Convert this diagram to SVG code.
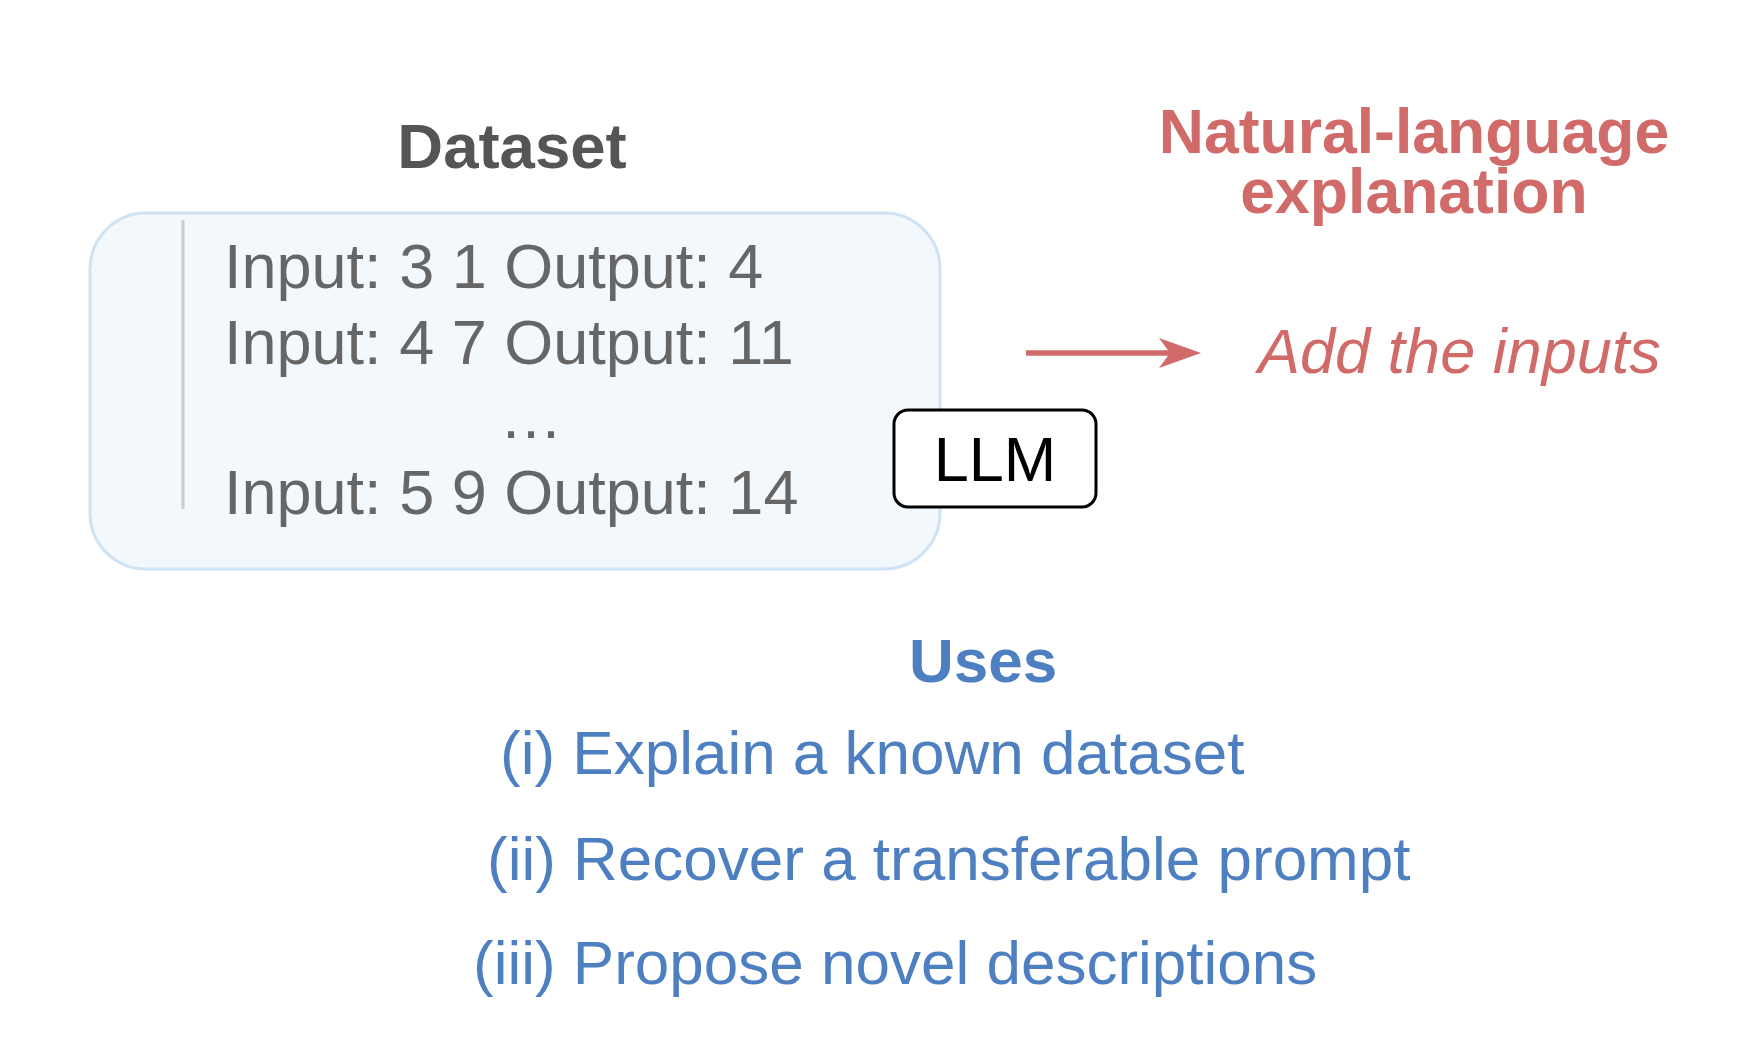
<svg xmlns="http://www.w3.org/2000/svg" width="1750" height="1040" viewBox="0 0 1750 1040">
  <style>
    .sans { font-family: "Liberation Sans", Arial, Helvetica, sans-serif; }
    .title-gray { font-size: 63.5px; font-weight: bold; fill: #555555; }
    .data { font-size: 63px; fill: #666666; }
    .red-bold { font-size: 62.5px; font-weight: bold; fill: #d16b69; }
    .red-it { font-size: 63px; font-style: italic; fill: #d16b69; }
    .blue-bold { font-size: 62px; font-weight: bold; fill: #4e80c1; }
    .blue { font-size: 62px; fill: #4e80c1; }
    .llm { font-size: 63px; fill: #000000; }
  </style>
  <defs>
    <marker id="arrowRed" viewBox="0 0 42 30" refX="31" refY="15" markerWidth="42" markerHeight="30" markerUnits="userSpaceOnUse" orient="auto">
      <path d="M0,0 L42,15 L0,30 L11,15 Z" fill="#d16b69"/>
    </marker>
  </defs>
  <rect width="1750" height="1040" fill="#ffffff"/>

  <g id="dataset">
    <text class="sans title-gray" x="512" y="168" text-anchor="middle">Dataset</text>
    <rect x="90" y="213" width="850" height="356" rx="56" ry="56" fill="#f3f8fd" stroke="#cfe3f5" stroke-width="3"/>
    <line x1="183" y1="220" x2="183" y2="509" stroke="#cccccc" stroke-width="3"/>
    <text class="sans data" x="224" y="288">Input: 3 1 Output: 4</text>
    <text class="sans data" x="224" y="364">Input: 4 7 Output: 11</text>
    <text class="sans data" x="531" y="438" text-anchor="middle">…</text>
    <text class="sans data" x="224" y="514">Input: 5 9 Output: 14</text>
  </g>

  <g id="llm">
    <rect x="894" y="410" width="202" height="97" rx="14" ry="14" fill="#ffffff" stroke="#000000" stroke-width="3"/>
    <text class="sans llm" x="995" y="481" text-anchor="middle">LLM</text>
  </g>

  <g id="explanation">
    <text class="sans red-bold" text-anchor="middle"><tspan x="1414" y="153">Natural-language</tspan><tspan x="1414" y="213">explanation</tspan></text>
    <text class="sans red-it" x="1258" y="373">Add the inputs</text>
  </g>

  <g id="uses">
    <text class="sans blue-bold" x="983" y="682" text-anchor="middle">Uses</text>
    <text class="sans blue" x="500" y="774">(i) Explain a known dataset</text>
    <text class="sans blue" x="487" y="880">(ii) Recover a transferable prompt</text>
    <text class="sans blue" x="473" y="984">(iii) Propose novel descriptions</text>
  </g>

  <g id="connectors">
    <line x1="1026" y1="353" x2="1190" y2="353" stroke="#d16b69" stroke-width="5.5" marker-end="url(#arrowRed)"/>
  </g>
</svg>
